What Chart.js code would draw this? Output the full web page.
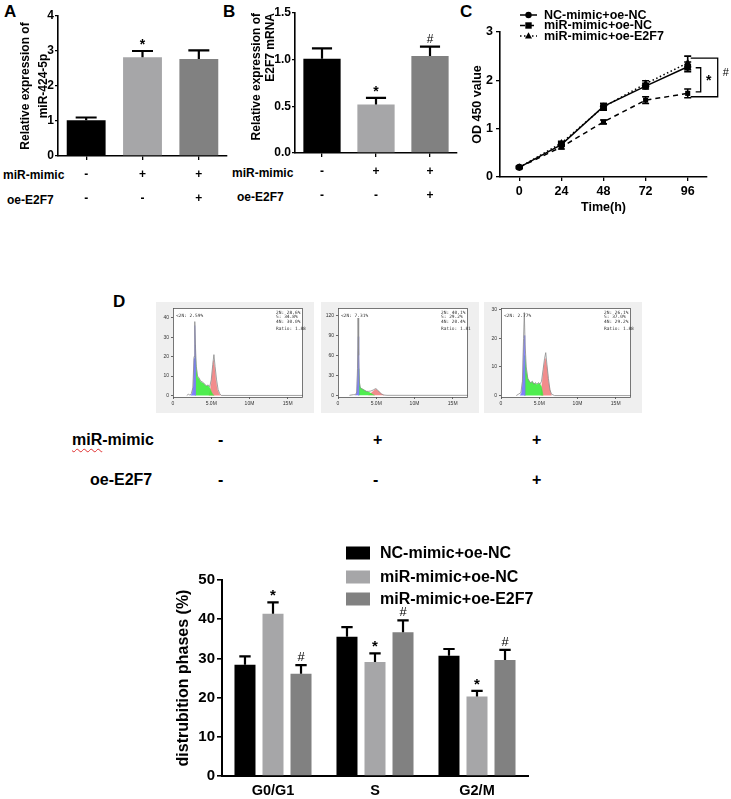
<!DOCTYPE html>
<html lang="en">
<head>
<meta charset="UTF-8">
<title>miR-424-5p / E2F7</title>
<script src="https://cdn.jsdelivr.net/npm/chart.js"></script>
<style>
  * { font-family: "Liberation Sans", Arial, Helvetica, sans-serif; }
  body { margin: 0; background: #fff; }
  #page { position: relative; width: 731px; height: 799px; overflow: hidden; }
  canvas { position: absolute; }
  .txt { position: absolute; font-weight: bold; color: #000; white-space: nowrap; line-height: 14px; font-size: 12px; }
  .tag { font-size: 17px; line-height: 18px; }
  .big { font-size: 16px; line-height: 18px; }
  .flow { background: #efefef; }
  .spell { text-decoration: underline wavy #e03030; text-decoration-thickness: 1px; text-underline-offset: 3px; }
</style>
</head>
<body>
<div id="page">
  <div class="txt tag" style="left:4px;top:3px">A</div>
  <div class="txt tag" style="left:223px;top:3px">B</div>
  <div class="txt tag" style="left:460px;top:3px">C</div>
  <div class="txt tag" style="left:113px;top:293px">D</div>

  <div class="txt" style="left:3px;top:168px">miR-mimic</div>
  <div class="txt" style="left:7px;top:193px">oe-E2F7</div>
  <div class="txt" style="left:232px;top:166px">miR-mimic</div>
  <div class="txt" style="left:237px;top:190px">oe-E2F7</div>

  <canvas id="chartA" width="230" height="215" style="left:0;top:0"></canvas>
  <canvas id="chartB" width="240" height="215" style="left:230px;top:0"></canvas>
  <canvas id="chartC" width="261" height="215" style="left:470px;top:0"></canvas>

  <canvas id="flow1" class="flow" width="158" height="111" style="left:156px;top:302px"></canvas>
  <canvas id="flow2" class="flow" width="158" height="111" style="left:321px;top:302px"></canvas>
  <canvas id="flow3" class="flow" width="158" height="111" style="left:484px;top:302px"></canvas>

  <div class="txt big" style="left:72px;top:431px"><span class="spell">miR</span>-mimic</div>
  <div class="txt big" style="left:90px;top:471px">oe-E2F7</div>
  <div id="dSigns"></div>

  <canvas id="chartD" width="420" height="269" style="left:140px;top:530px"></canvas>
</div>

<script>
  // ---- data ----
  const groupColors = ['#000000', '#a6a6a8', '#818181'];
  const groupNames = ['NC-mimic+oe-NC', 'miR-mimic+oe-NC', 'miR-mimic+oe-E2F7'];
  const mimicRow = ['-', '+', '+'];
  const e2f7Row = ['-', '-', '+'];

  // A: miR-424-5p
  const aValues = [1.02, 2.82, 2.77];
  const aErrors = [0.08, 0.18, 0.25];
  const aMarks = ['', '*', ''];

  // B: E2F7 mRNA
  const bValues = [1.01, 0.52, 1.04];
  const bErrors = [0.11, 0.07, 0.10];
  const bMarks = ['', '*', '#'];

  // C: CCK-8
  const hours = [0, 24, 48, 72, 96];
  const odNC = [0.20, 0.67, 1.46, 1.88, 2.28];
  const odNCErr = [0.02, 0.04, 0.06, 0.06, 0.10];
  const odMimic = [0.20, 0.62, 1.14, 1.59, 1.73];
  const odMimicErr = [0.02, 0.04, 0.04, 0.07, 0.09];
  const odE2F7 = [0.20, 0.70, 1.45, 1.93, 2.36];
  const odE2F7Err = [0.02, 0.04, 0.07, 0.06, 0.14];
  const sigTop = [2.26, 2.46];
  const sigBottom = [1.76, 1.66];
  const sigLabels = ['*', '#'];

  // D: flow cytometry histograms (x in millions, y counts)
  const flowXTicks = [0, 5, 10, 15];
  const flowXLabels = ['0', '5.0M', '10M', '15M'];
  const flow1YTicks = [0, 10, 20, 30, 40];
  const flow2YTicks = [0, 30, 60, 90, 120];
  const flow3YTicks = [0, 10, 20, 30];

  const flow1Outline = [[1.8,0],[2.0,0.6],[2.2,0.2],[2.4,1],[2.6,4],[2.75,20],[2.85,38],[2.95,24],[3.05,15],[3.2,10],[3.4,9],[3.6,7.5],[3.8,7],[4.0,6.5],[4.2,5.5],[4.4,5],[4.6,5.4],[4.8,4.5],[5.0,8],[5.2,16],[5.35,21],[5.5,15],[5.7,8],[5.9,3],[6.1,1],[6.3,0],[17,0]];
  const flow1Blue = [[2.3,0],[2.5,1],[2.65,5],[2.75,19],[2.85,36],[2.92,26],[2.93,0]];
  const flow1Green = [[2.92,0],[2.93,20],[3.05,14],[3.2,9.5],[3.4,8.5],[3.6,7],[3.8,6.5],[4.0,6.2],[4.2,5.2],[4.4,4.8],[4.6,5],[4.8,4],[5.0,2],[5.2,0.5],[5.4,0]];
  const flow1Red = [[4.7,0],[4.9,3],[5.1,10],[5.3,18],[5.45,14],[5.6,8],[5.8,3],[6.0,1],[6.2,0]];
  const flow1Stats = ['<2N: 2.59%', '2N: 28.6%', 'S: 34.8%', '4N: 30.0%', 'Ratio: 1.88'];

  const flow2Outline = [[1.5,0],[2.0,1],[2.3,1],[2.45,5],[2.55,40],[2.62,116],[2.7,60],[2.8,20],[2.9,12],[3.1,10],[3.4,8],[3.7,6],[4.0,6],[4.3,6.5],[4.6,8],[4.9,10],[5.1,9],[5.4,5],[5.7,2],[6.0,0.5],[6.4,0],[17,0]];
  const flow2Blue = [[2.3,0],[2.45,4],[2.55,30],[2.65,88],[2.71,60],[2.72,0]];
  const flow2Green = [[2.71,0],[2.72,40],[2.8,18],[2.9,12],[3.1,10],[3.4,8],[3.7,6],[4.0,5],[4.3,3],[4.6,1],[4.8,0]];
  const flow2Red = [[4.0,0],[4.3,3],[4.6,6],[4.9,9],[5.1,8],[5.4,5],[5.7,2],[6.0,0]];
  const flow2Stats = ['<2N: 7.31%', '2N: 40.1%', 'S: 29.2%', '4N: 20.4%', 'Ratio: 1.81'];

  const flow3Outline = [[2.0,0],[2.3,0.5],[2.6,1],[2.8,5],[2.95,20],[3.05,29],[3.15,18],[3.3,10],[3.5,6],[3.7,5],[3.9,4.5],[4.1,5],[4.3,4],[4.5,4.5],[4.7,4],[4.9,4.5],[5.1,4],[5.3,5],[5.5,9],[5.7,13],[5.85,15],[6.0,11],[6.2,6],[6.4,2],[6.6,0.5],[7.0,0],[17,0]];
  const flow3Blue = [[2.5,0],[2.7,1],[2.85,6],[2.95,16],[3.05,21],[3.11,15],[3.12,0]];
  const flow3Green = [[3.11,0],[3.12,14],[3.3,9],[3.5,6],[3.7,5],[3.9,4.5],[4.1,4.8],[4.3,4],[4.5,4.3],[4.7,3.8],[4.9,4.3],[5.1,4],[5.3,3],[5.5,0]];
  const flow3Red = [[5.2,0],[5.4,5],[5.6,10],[5.8,13],[6.0,10],[6.2,5],[6.4,2],[6.6,0]];
  const flow3Stats = ['<2N: 2.77%', '2N: 26.1%', 'S: 37.0%', '4N: 29.2%', 'Ratio: 1.88'];

  // E: distribution of phases
  const phases = ['G0/G1', 'S', 'G2/M'];
  const phaseNC = [28.4, 35.5, 30.7];
  const phaseNCErr = [2.1, 2.5, 1.7];
  const phaseMimic = [41.4, 29.1, 20.3];
  const phaseMimicErr = [2.9, 2.2, 1.4];
  const phaseE2F7 = [26.1, 36.7, 29.6];
  const phaseE2F7Err = [2.2, 3.0, 2.6];
  const phaseMarksMimic = ['*', '*', '*'];
  const phaseMarksE2F7 = ['#', '#', '#'];

  // ---- plugins ----
  const FONT = '"Liberation Sans", Arial, sans-serif';

  const errorBars = {
    id: 'errorBars',
    afterDatasetsDraw(chart) {
      const ctx = chart.ctx;
      chart.data.datasets.forEach((ds, di) => {
        if (!ds.errors) return;
        const meta = chart.getDatasetMeta(di);
        const ys = chart.scales[meta.yAxisID];
        meta.data.forEach((el, i) => {
          const raw = ds.data[i];
          const v = typeof raw === 'object' ? raw.y : raw;
          const top = ys.getPixelForValue(v + ds.errors[i]);
          const bottom = ds.bothWays ? ys.getPixelForValue(v - ds.errors[i]) : el.y;
          const half = ds.capHalf || el.width * 0.27;
          ctx.save();
          ctx.strokeStyle = '#000';
          ctx.lineWidth = ds.errWidth || 2;
          ctx.beginPath();
          ctx.moveTo(el.x, bottom); ctx.lineTo(el.x, top);
          ctx.moveTo(el.x - half, top); ctx.lineTo(el.x + half, top);
          if (ds.bothWays) { ctx.moveTo(el.x - half, bottom); ctx.lineTo(el.x + half, bottom); }
          ctx.stroke();
          const m = ds.marks ? ds.marks[i] : '';
          if (m) {
            ctx.fillStyle = '#000';
            ctx.textAlign = 'center';
            ctx.textBaseline = 'alphabetic';
            const s = ds.markSize || 13;
            if (m === '*') { ctx.font = 'bold ' + s + 'px ' + FONT; ctx.fillText(m, el.x, top - 2); }
            else { ctx.font = (s - 2) + 'px ' + FONT; ctx.fillText(m, el.x, top - 4); }
          }
          ctx.restore();
        });
      });
    }
  };

  function marker(ctx, style, x, y, r) {
    ctx.beginPath();
    if (style === 'rect') ctx.rect(x - r, y - r, 2 * r, 2 * r);
    else if (style === 'triangle') { ctx.moveTo(x, y - r * 1.2); ctx.lineTo(x + r * 1.1, y + r * 0.8); ctx.lineTo(x - r * 1.1, y + r * 0.8); ctx.closePath(); }
    else ctx.arc(x, y, r, 0, Math.PI * 2);
    ctx.fill();
  }

  const lineLegend = {
    id: 'lineLegend',
    afterDraw(chart, args, o) {
      if (!o.rows) return;
      const ctx = chart.ctx;
      chart.data.datasets.forEach((ds, i) => {
        const y = o.rows[i];
        ctx.save();
        ctx.strokeStyle = '#000'; ctx.fillStyle = '#000';
        ctx.lineWidth = 1.5;
        ctx.setLineDash(ds.borderDash || []);
        ctx.beginPath(); ctx.moveTo(o.x, y); ctx.lineTo(o.x + o.len, y); ctx.stroke();
        ctx.setLineDash([]);
        marker(ctx, ds.pointStyle, o.x + o.len / 2, y, 3.2);
        ctx.font = o.font; ctx.textBaseline = 'middle';
        ctx.fillText(ds.label, o.x + o.len + o.gap, y + 0.5);
        ctx.restore();
      });
    }
  };

  const brackets = {
    id: 'brackets',
    afterDraw(chart, args, o) {
      if (!o.arms) return;
      const ctx = chart.ctx, xs = chart.scales.x, ys = chart.scales.y;
      const x0 = xs.getPixelForValue(hours[hours.length - 1]);
      sigLabels.forEach((lab, i) => {
        const t = ys.getPixelForValue(sigTop[i]), b = ys.getPixelForValue(sigBottom[i]);
        const a0 = x0 + o.arms[i][0], a1 = x0 + o.arms[i][1];
        ctx.save();
        ctx.strokeStyle = '#000'; ctx.lineWidth = 1.3;
        ctx.beginPath();
        ctx.moveTo(a0, t); ctx.lineTo(a1, t); ctx.lineTo(a1, b); ctx.lineTo(a0, b);
        ctx.stroke();
        ctx.fillStyle = '#000'; ctx.textAlign = 'center'; ctx.textBaseline = 'middle';
        ctx.font = lab === '*' ? 'bold 14px ' + FONT : '11px ' + FONT;
        ctx.fillText(lab, x0 + o.labelDx[i], (t + b) / 2 + o.labelDy[i]);
        ctx.restore();
      });
    }
  };

  const boxLegend = {
    id: 'boxLegend',
    afterDraw(chart, args, o) {
      if (!o.rows) return;
      const ctx = chart.ctx;
      chart.data.datasets.forEach((ds, i) => {
        const y = o.rows[i];
        ctx.save();
        ctx.fillStyle = ds.backgroundColor;
        ctx.fillRect(o.x, y - o.h / 2, o.w, o.h);
        ctx.fillStyle = '#000'; ctx.font = o.font; ctx.textBaseline = 'middle';
        ctx.fillText(ds.label, o.x + o.w + o.gap, y + 1);
        ctx.restore();
      });
    }
  };

  const flowFrame = {
    id: 'flowFrame',
    beforeDraw(chart, args, o) {
      if (!o.stats) return;
      const a = chart.chartArea, ctx = chart.ctx;
      ctx.save(); ctx.fillStyle = '#fff'; ctx.fillRect(a.left, a.top, a.right - a.left, a.bottom - a.top); ctx.restore();
    },
    afterDraw(chart, args, o) {
      if (!o.stats) return;
      const a = chart.chartArea, ctx = chart.ctx;
      ctx.save();
      ctx.strokeStyle = '#555'; ctx.lineWidth = 0.8;
      ctx.strokeRect(a.left + 0.5, a.top + 0.5, a.right - a.left - 1, a.bottom - a.top);
      ctx.fillStyle = '#333'; ctx.font = '4.5px "DejaVu Sans Mono", monospace'; ctx.textBaseline = 'middle';
      ctx.fillText(o.stats[0], a.left + 3, a.top + 8);
      for (let i = 1; i < 4; i++) ctx.fillText(o.stats[i], a.right - 27, a.top + 5 + (i - 1) * 4.3);
      ctx.fillText(o.stats[4], a.right - 27, a.top + 21);
      ctx.restore();
    }
  };

  Chart.register(errorBars, lineLegend, brackets, boxLegend, flowFrame);
  Chart.defaults.font.family = FONT;
  Chart.defaults.color = '#000';
  Chart.defaults.animation = false;
  Chart.defaults.responsive = false;
  Chart.defaults.plugins.legend.display = false;
  Chart.defaults.plugins.tooltip.enabled = false;

  // ---- A and B ----
  function expressionChart(id, values, errors, marks, yMax, yStep, yDecimals, title, geom) {
    return new Chart(document.getElementById(id), {
      type: 'bar',
      data: {
        labels: mimicRow.map((m, i) => [m, e2f7Row[i]]),
        datasets: [{
          data: values,
          backgroundColor: groupColors,
          errors: errors,
          marks: marks,
          errWidth: 2.2,
          markSize: 14,
          categoryPercentage: 1,
          barPercentage: 0.69
        }]
      },
      options: {
        layout: { padding: { top: geom.top, right: geom.right, left: 0, bottom: 0 } },
        scales: {
          x: {
            grid: { display: true, drawOnChartArea: false, offset: false, tickLength: 4, color: '#000', lineWidth: 1.3 },
            border: { color: '#000', width: 1.6 },
            ticks: { padding: 2, font: { size: 12, weight: 'bold', lineHeight: 2.05 } },
            afterFit: s => { s.height = geom.xh; }
          },
          y: {
            min: 0, max: yMax,
            grid: { display: true, drawOnChartArea: false, tickLength: 3, color: '#000', lineWidth: 1.3 },
            border: { color: '#000', width: 1.6 },
            ticks: { stepSize: yStep, padding: 1, font: { size: 12, weight: 'bold' },
                     callback: v => v.toFixed(yDecimals) },
            title: { display: true, text: title, align: geom.align,
                     font: { size: 12, weight: 'bold', lineHeight: geom.lh }, padding: { top: geom.tp, bottom: 0 } },
            afterFit: s => { s.width = geom.yw; }
          }
        }
      }
    });
  }

  expressionChart('chartA', aValues, aErrors, aMarks, 4, 1, 0,
    ['Relative expression of', 'miR-424-5p'],
    { top: 16, right: 3, xh: 59, yw: 58, tp: 17, lh: 1.5, align: 'center' });
  expressionChart('chartB', bValues, bErrors, bMarks, 1.5, 0.5, 1,
    ['Relative expression of', 'E2F7 mRNA'],
    { top: 13, right: 13, xh: 62, yw: 65, tp: 20, lh: 1.15, align: 'end' });

  // ---- C ----
  function odSet(label, values, errors, style, dash) {
    return {
      label: label,
      data: hours.map((h, i) => ({ x: h, y: values[i] })),
      errors: errors, bothWays: true, capHalf: 3.5, errWidth: 1.6,
      borderColor: '#000', backgroundColor: '#000', borderWidth: 1.5, borderDash: dash,
      pointStyle: style, pointRadius: style === 'triangle' ? 4.2 : 3.6, pointBorderWidth: 0,
      tension: 0
    };
  }
  new Chart(document.getElementById('chartC'), {
    type: 'line',
    data: {
      datasets: [
        odSet(groupNames[0], odNC, odNCErr, 'circle', []),
        odSet(groupNames[1], odMimic, odMimicErr, 'rect', [5, 4]),
        odSet(groupNames[2], odE2F7, odE2F7Err, 'triangle', [1.5, 2.5])
      ]
    },
    options: {
      layout: { padding: { top: 32, right: 24, left: 0, bottom: 0 } },
      plugins: {
        lineLegend: { x: 50, len: 17, gap: 7, rows: [15, 25.5, 36], font: 'bold 12.5px ' + FONT },
        brackets: { arms: [[8, 13], [3, 30]], labelDx: [21, 38], labelDy: [1, -4] }
      },
      scales: {
        x: {
          type: 'linear', min: -11, max: 107,
          afterBuildTicks: s => { s.ticks = hours.map(h => ({ value: h })); },
          grid: { display: true, drawOnChartArea: false, tickLength: 4, color: '#000', lineWidth: 1.3 },
          border: { color: '#000', width: 1.6 },
          ticks: { padding: 3, font: { size: 12.5, weight: 'bold' } },
          title: { display: true, text: 'Time(h)', font: { size: 12.5, weight: 'bold' }, padding: { top: 2, bottom: 0 } },
          afterFit: s => { s.height = 38; }
        },
        y: {
          min: 0, max: 3,
          grid: { display: true, drawOnChartArea: false, tickLength: 4, color: '#000', lineWidth: 1.3 },
          border: { color: '#000', width: 1.6 },
          ticks: { stepSize: 1, padding: 3, font: { size: 12.5, weight: 'bold' } },
          title: { display: true, text: 'OD 450 value', font: { size: 12.5, weight: 'bold' }, padding: { top: 0, bottom: 0 } },
          afterFit: s => { s.width = 30; }
        }
      }
    }
  });

  // ---- D: histograms ----
  const pts = arr => arr.map(p => ({ x: p[0], y: p[1] }));
  function flowChart(id, outline, blue, green, red, yTicks, yMin, yMax, stats) {
    const area = (d, c) => ({ data: pts(d), fill: 'origin', backgroundColor: c, borderColor: c, borderWidth: 0.5, pointRadius: 0, tension: 0 });
    return new Chart(document.getElementById(id), {
      type: 'line',
      data: {
        datasets: [
          { data: pts(outline), borderColor: '#8a8a8a', borderWidth: 0.8, pointRadius: 0, fill: false, tension: 0 },
          area(blue, 'rgba(115,115,250,0.9)'),
          area(green, 'rgba(60,235,60,0.9)'),
          area(red, 'rgba(240,120,120,0.85)')
        ]
      },
      options: {
        layout: { padding: { top: 6, right: 11, left: 0, bottom: 0 } },
        plugins: { flowFrame: { stats: stats } },
        scales: {
          x: {
            type: 'linear', min: 0, max: 17,
            afterBuildTicks: s => { s.ticks = flowXTicks.map(v => ({ value: v })); },
            grid: { display: true, drawOnChartArea: false, tickLength: 2, color: '#444', lineWidth: 0.8 },
            border: { display: false },
            ticks: { padding: 2, font: { size: 5 }, color: '#333',
                     callback: v => flowXLabels[flowXTicks.indexOf(v)] },
            afterFit: s => { s.height = 16; }
          },
          y: {
            min: yMin, max: yMax,
            afterBuildTicks: s => { s.ticks = yTicks.map(v => ({ value: v })); },
            grid: { display: true, drawOnChartArea: false, tickLength: 2, color: '#444', lineWidth: 0.8 },
            border: { display: false },
            ticks: { padding: 2, font: { size: 5 }, color: '#333' },
            afterFit: s => { s.width = 17; }
          }
        }
      }
    });
  }
  flowChart('flow1', flow1Outline, flow1Blue, flow1Green, flow1Red, flow1YTicks, -0.8, 45, flow1Stats);
  flowChart('flow2', flow2Outline, flow2Blue, flow2Green, flow2Red, flow2YTicks, -2.5, 131, flow2Stats);
  flowChart('flow3', flow3Outline, flow3Blue, flow3Green, flow3Red, flow3YTicks, -0.5, 30.6, flow3Stats);

  // condition signs under the histograms
  const signX = [223, 378, 537];
  const signBox = document.getElementById('dSigns');
  [mimicRow, e2f7Row].forEach((row, r) => {
    row.forEach((s, i) => {
      const d = document.createElement('div');
      d.className = 'txt big';
      d.style.left = (signX[i] - 5) + 'px';
      d.style.top = (431 + r * 40) + 'px';
      d.textContent = s;
      signBox.appendChild(d);
    });
  });

  // ---- E: phase distribution ----
  function phaseSet(i, values, errors, marks) {
    return { label: groupNames[i], data: values, backgroundColor: groupColors[i], errors: errors, marks: marks,
             errWidth: 2.2, markSize: 15, categoryPercentage: 0.824, barPercentage: 0.75 };
  }
  new Chart(document.getElementById('chartD'), {
    type: 'bar',
    data: {
      labels: phases,
      datasets: [
        phaseSet(0, phaseNC, phaseNCErr, null),
        phaseSet(1, phaseMimic, phaseMimicErr, phaseMarksMimic),
        phaseSet(2, phaseE2F7, phaseE2F7Err, phaseMarksE2F7)
      ]
    },
    options: {
      layout: { padding: { top: 50, right: 32, left: 0, bottom: 0 } },
      plugins: {
        boxLegend: { x: 206, w: 24, h: 13, gap: 10, rows: [23, 47, 69], font: 'bold 16px ' + FONT }
      },
      scales: {
        x: {
          grid: { display: false, drawTicks: false },
          border: { color: '#000', width: 2 },
          ticks: { padding: 6, font: { size: 14.5, weight: 'bold' } },
          afterFit: s => { s.height = 23; }
        },
        y: {
          min: 0, max: 50,
          grid: { display: true, drawOnChartArea: false, tickLength: 5, color: '#000', lineWidth: 1.6 },
          border: { color: '#000', width: 2 },
          ticks: { stepSize: 10, padding: 2, font: { size: 15, weight: 'bold' } },
          title: { display: true, text: 'distrubition phases (%)', font: { size: 16, weight: 'bold' }, padding: { top: 34, bottom: 0 } },
          afterFit: s => { s.width = 82; }
        }
      }
    }
  });
</script>
</body>
</html>
